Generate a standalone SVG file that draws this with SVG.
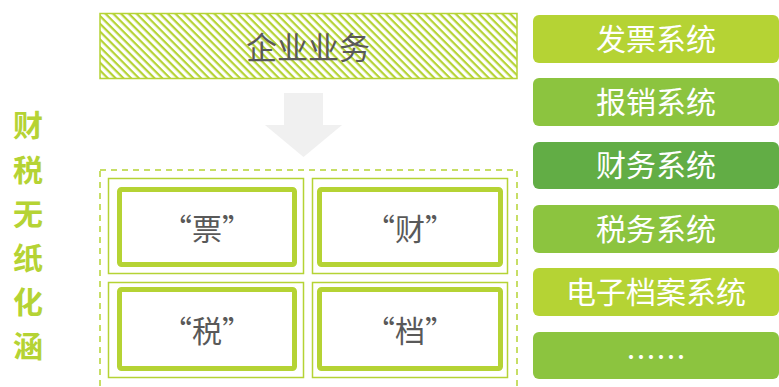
<svg xmlns="http://www.w3.org/2000/svg" width="779" height="387" viewBox="0 0 779 387">
<defs>
<pattern id="hatch" width="5.5" height="5.5" patternUnits="userSpaceOnUse" patternTransform="rotate(45)">
<rect width="5.5" height="5.5" fill="#ffffff"/>
<rect x="0" y="0" width="5.5" height="2.2" fill="#b5d334"/>
</pattern>
</defs>
<style>
.cn{font-family:"Noto Sans CJK SC","Noto Sans",sans-serif;}
.sys{fill:#ffffff;font-size:30px;text-anchor:middle;}
.cell-t{fill:#595959;font-size:30px;text-anchor:middle;}
.thin{fill:none;stroke:#b5d334;stroke-width:1.5;}
.thick{fill:#ffffff;stroke:#b5d334;stroke-width:5;}
.side{fill:#b5d334;font-size:30px;font-weight:bold;text-anchor:middle;}
</style>
<g id="side-title">
<text class="cn side" x="28" y="136">财</text>
<text class="cn side" x="28" y="181">税</text>
<text class="cn side" x="28" y="225">无</text>
<text class="cn side" x="28" y="269">纸</text>
<text class="cn side" x="28" y="313">化</text>
<text class="cn side" x="28" y="357">涵</text>
</g>
<g id="enterprise">
<rect x="100" y="13.5" width="417" height="65" fill="url(#hatch)" stroke="#b5d334" stroke-width="1.5"/>
<text class="cn" x="308" y="59" font-size="31" fill="#595959" text-anchor="middle">企业业务</text>
</g>
<g id="arrow">
<polygon points="284,93 323,93 323,125 342,125 303.5,157 265,125 284,125" fill="#f0f0f0"/>
</g>
<g id="container">
<rect x="100" y="170" width="417" height="230" fill="none" stroke="#b5d334" stroke-width="1.5" stroke-dasharray="6,5"/>
</g>
<g id="cell-piao">
<rect class="thin" x="108.5" y="178.5" width="195" height="95"/>
<rect class="thick" x="119.5" y="189.5" width="175" height="75" rx="2"/>
<text class="cn cell-t" x="207" y="240">“票”</text>
</g>
<g id="cell-cai">
<rect class="thin" x="312.5" y="178.5" width="195" height="95"/>
<rect class="thick" x="319.5" y="189.5" width="181" height="75" rx="2"/>
<text class="cn cell-t" x="410" y="240">“财”</text>
</g>
<g id="cell-shui">
<rect class="thin" x="108.5" y="282.5" width="195" height="95"/>
<rect class="thick" x="119.5" y="289.5" width="175" height="79" rx="2"/>
<text class="cn cell-t" x="207" y="342">“税”</text>
</g>
<g id="cell-dang">
<rect class="thin" x="312.5" y="282.5" width="195" height="95"/>
<rect class="thick" x="319.5" y="289.5" width="181" height="79" rx="2"/>
<text class="cn cell-t" x="410" y="342">“档”</text>
</g>
<g id="sys-fapiao">
<rect x="533" y="15" width="246" height="48" rx="6" fill="#b5d334"/>
<text class="cn sys" x="656" y="50">发票系统</text>
</g>
<g id="sys-baoxiao">
<rect x="533" y="78" width="246" height="48" rx="6" fill="#8cc43f"/>
<text class="cn sys" x="656" y="113">报销系统</text>
</g>
<g id="sys-caiwu">
<rect x="533" y="142" width="246" height="47" rx="6" fill="#62ad45"/>
<text class="cn sys" x="656" y="176">财务系统</text>
</g>
<g id="sys-shuiwu">
<rect x="533" y="205" width="246" height="48" rx="6" fill="#8cc43f"/>
<text class="cn sys" x="656" y="240">税务系统</text>
</g>
<g id="sys-dangan">
<rect x="533" y="268" width="246" height="48" rx="6" fill="#b5d334"/>
<text class="cn sys" x="656" y="303">电子档案系统</text>
</g>
<g id="sys-more">
<rect x="533" y="332" width="246" height="47" rx="6" fill="#8cc43f"/>
<text class="cn sys" x="656" y="368">……</text>
</g>
</svg>
